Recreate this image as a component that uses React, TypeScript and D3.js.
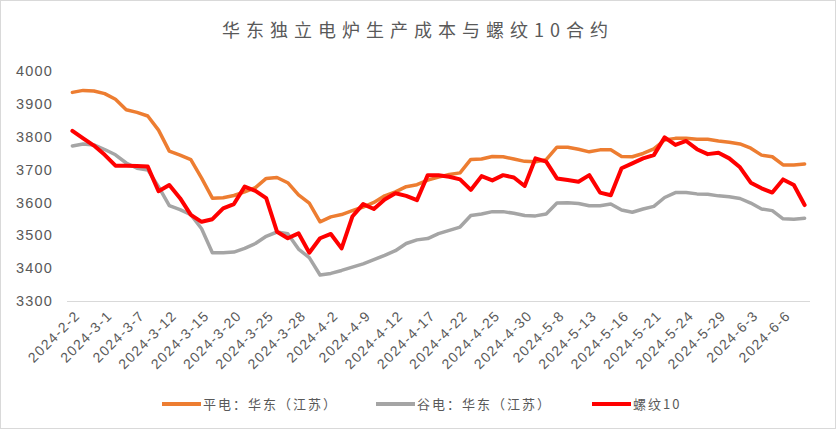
import React from "react";
import * as d3 from "d3";

const dates: string[] = [
  "2024-2-2", "2024-2-23", "2024-2-27", "2024-3-1", "2024-3-4", "2024-3-5", "2024-3-7", "2024-3-8", "2024-3-11", "2024-3-12",
  "2024-3-13", "2024-3-14", "2024-3-15", "2024-3-18", "2024-3-19", "2024-3-20", "2024-3-21", "2024-3-22", "2024-3-25", "2024-3-26",
  "2024-3-27", "2024-3-28", "2024-3-29", "2024-4-1", "2024-4-2", "2024-4-3", "2024-4-8", "2024-4-9", "2024-4-10", "2024-4-11",
  "2024-4-12", "2024-4-15", "2024-4-16", "2024-4-17", "2024-4-18", "2024-4-19", "2024-4-22", "2024-4-23", "2024-4-24", "2024-4-25",
  "2024-4-26", "2024-4-29", "2024-4-30", "2024-5-6", "2024-5-7", "2024-5-8", "2024-5-9", "2024-5-10", "2024-5-13", "2024-5-14",
  "2024-5-15", "2024-5-16", "2024-5-17", "2024-5-20", "2024-5-21", "2024-5-22", "2024-5-23", "2024-5-24", "2024-5-27", "2024-5-28",
  "2024-5-29", "2024-5-30", "2024-5-31", "2024-6-3", "2024-6-4", "2024-6-5", "2024-6-6", "2024-6-7", "2024-6-11",
];

const flatPower: number[] = [
  3935, 3941, 3939, 3931, 3914, 3882, 3874, 3863, 3820, 3756,
  3744, 3730, 3674, 3613, 3614, 3621, 3632, 3645, 3673, 3676,
  3660, 3623, 3598, 3541, 3556, 3563, 3575, 3586, 3600, 3620,
  3632, 3648, 3654, 3668, 3677, 3685, 3690, 3731, 3732, 3740,
  3739, 3732, 3725, 3724, 3730, 3768, 3768, 3762, 3754, 3760,
  3760, 3740, 3739, 3749, 3763, 3790, 3795, 3795, 3792, 3792,
  3787, 3783, 3778, 3765, 3744, 3739, 3714, 3714, 3717,
];

const valleyPower: number[] = [
  3772, 3778, 3775, 3761, 3745, 3720, 3704, 3699, 3648, 3590,
  3578, 3563, 3520, 3447, 3447, 3449, 3460, 3475, 3497, 3510,
  3505, 3458, 3432, 3379, 3384, 3393, 3403, 3413, 3426, 3439,
  3453, 3475, 3486, 3490, 3505, 3515, 3525, 3560, 3565, 3572,
  3572, 3567, 3560, 3559, 3565, 3598, 3599, 3597, 3590, 3590,
  3595, 3577, 3570, 3580, 3588, 3615, 3630, 3630, 3626, 3625,
  3620, 3617, 3612, 3598, 3580, 3575, 3550, 3549, 3552,
];

const rebar10: number[] = [
  3818, 3795, 3773, 3745, 3712, 3712, 3711, 3709, 3634, 3653,
  3613, 3562, 3541, 3549, 3582, 3595, 3648, 3635, 3613, 3511,
  3491, 3506, 3447, 3491, 3504, 3460, 3557, 3595, 3580, 3609,
  3628, 3620, 3607, 3683, 3683, 3678, 3670, 3638, 3680, 3667,
  3683, 3676, 3650, 3734, 3724, 3673, 3668, 3663, 3683, 3630,
  3622, 3704, 3719, 3734, 3744, 3798, 3775, 3787, 3762, 3747,
  3751, 3734, 3707, 3660, 3643, 3630, 3670, 3653, 3592,
];

const yTicks: number[] = [3300, 3400, 3500, 3600, 3700, 3800, 3900, 4000];
const seriesNames: string[] = ["平电：华东（江苏）", "谷电：华东（江苏）", "螺纹10"];
const title = "华东独立电炉生产成本与螺纹10合约";

const W = 836;
const H = 429;
const left = 67;
const right = 810;
const top = 71;
const bottom = 301;

const textColor = "#595959";
const cjk = "'Noto Sans CJK SC', 'Noto Sans', sans-serif";
const latin = "'Liberation Sans', Arial, sans-serif";

export default function App() {
  const x = d3.scaleBand<string>().domain(dates).range([left, right]).padding(0);
  const y = d3.scaleLinear().domain([3300, 4000]).range([bottom, top]);
  const cx = (i: number) => (x(dates[i]) as number) + x.bandwidth() / 2;

  const line = d3
    .line<number>()
    .x((_, i) => cx(i))
    .y((d) => y(d));

  const series = [
    { name: seriesNames[0], values: flatPower, color: "#ED7D31", width: 3.5 },
    { name: seriesNames[1], values: valleyPower, color: "#A5A5A5", width: 3.5 },
    { name: seriesNames[2], values: rebar10, color: "#FF0000", width: 4 },
  ];

  const labelIdx = dates.map((_, i) => i).filter((i) => i % 3 === 0 && i <= 66);

  const legendItems = [
    { x: 162, color: "#ED7D31", name: seriesNames[0] },
    { x: 376, color: "#A5A5A5", name: seriesNames[1] },
    { x: 592, color: "#FF0000", name: seriesNames[2] },
  ];

  return (
    <svg
      width={W}
      height={H}
      style={{ position: "absolute", left: 0, top: 0, background: "#fff" }}
    >
      <rect x={0.5} y={0.5} width={W - 1} height={H - 1} fill="#fff" stroke="#d9d9d9" />
      <text
        x={W / 2}
        y={37}
        textAnchor="middle"
        fontFamily={cjk}
        fontSize={18}
        letterSpacing={6}
        fill={textColor}
      >
        {title}
      </text>

      {yTicks.map((t) => (
        <text
          key={t}
          x={53}
          y={y(t)}
          dy="0.35em"
          textAnchor="end"
          fontFamily={latin}
          fontSize={14.5}
          letterSpacing={1.2}
          fill={textColor}
        >
          {t}
        </text>
      ))}

      <line x1={left} x2={right} y1={bottom + 0.5} y2={bottom + 0.5} stroke="#d9d9d9" strokeWidth={1} />

      {labelIdx.map((i) => (
        <text
          key={i}
          transform={`translate(${cx(i) + 5},${bottom + 12}) rotate(-45)`}
          textAnchor="end"
          dy="0.35em"
          fontFamily={latin}
          fontSize={14}
          letterSpacing={1.3}
          fill={textColor}
        >
          {dates[i]}
        </text>
      ))}

      {series.map((s) => (
        <path
          key={s.name}
          d={line(s.values) || ""}
          fill="none"
          stroke={s.color}
          strokeWidth={s.width}
          strokeLinejoin="round"
          strokeLinecap="round"
        />
      ))}

      {legendItems.map((l) => (
        <g key={l.name}>
          <line x1={l.x} x2={l.x + 39} y1={404} y2={404} stroke={l.color} strokeWidth={4} />
          <text
            x={l.x + 41}
            y={404}
            dy="0.35em"
            fontFamily={cjk}
            fontSize={13}
            letterSpacing={2}
            fill={textColor}
          >
            {l.name}
          </text>
        </g>
      ))}
    </svg>
  );
}
